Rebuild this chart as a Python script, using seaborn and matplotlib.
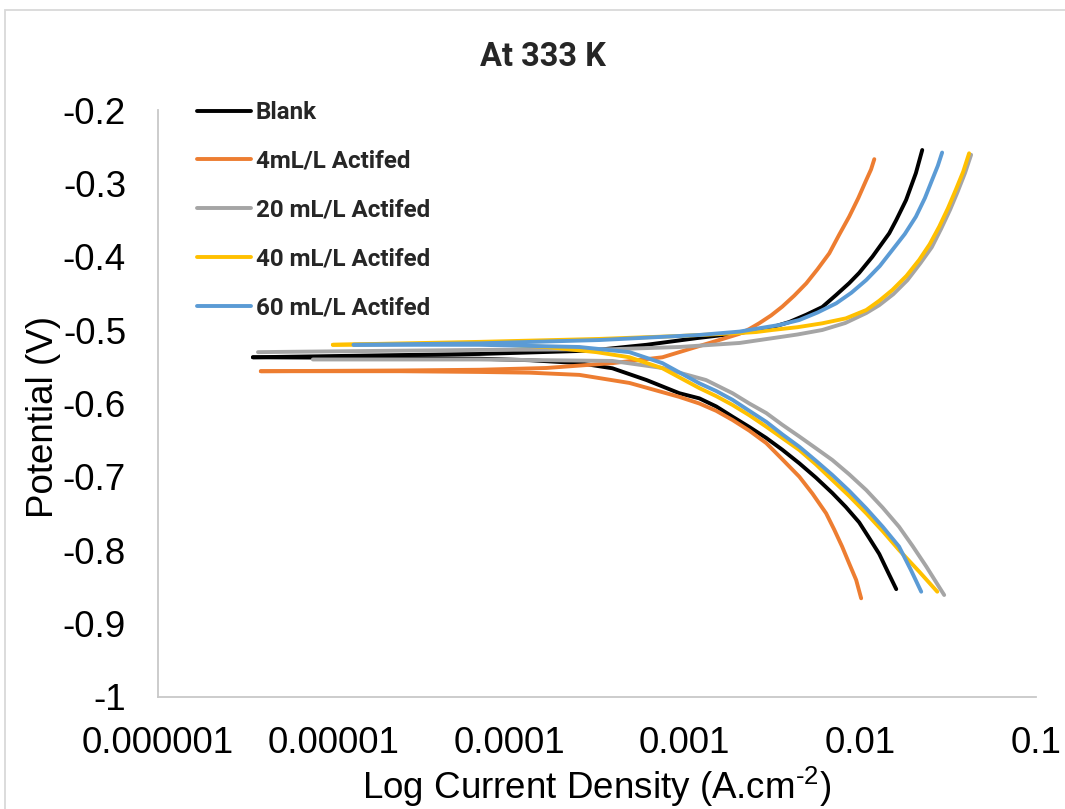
import matplotlib
matplotlib.use("Agg")
import matplotlib.pyplot as plt
import seaborn as sns
import pandas as pd
from matplotlib.lines import Line2D
from matplotlib.patches import Rectangle
from matplotlib.ticker import NullLocator

# ---------------- data ----------------
series_names = ["Blank", "4mL/L Actifed", "20 mL/L Actifed", "40 mL/L Actifed", "60 mL/L Actifed"]
series_colors = ["#000000", "#ED7D31", "#A5A5A5", "#FFC000", "#5B9BD5"]

# Blank  (current density A/cm2, potential V)
blank_cat_i = [1.60e-2, 1.43e-2, 1.28e-2, 1.12e-2, 9.84e-3, 8.26e-3, 6.92e-3, 5.58e-3, 4.49e-3, 3.59e-3,
               2.91e-3, 2.33e-3, 1.87e-3, 1.51e-3, 1.21e-3, 9.31e-4, 6.05e-4, 3.87e-4, 2.51e-4, 1.31e-4,
               6.79e-5, 2.38e-5, 3.47e-6]
blank_cat_E = [-0.853, -0.829, -0.805, -0.783, -0.762, -0.741, -0.722, -0.701, -0.6815, -0.663,
               -0.647, -0.632, -0.618, -0.604, -0.593, -0.586, -0.568, -0.552, -0.545, -0.541,
               -0.539, -0.538, -0.537]
blank_an_i = [3.47e-6, 2.38e-5, 6.79e-5, 2.86e-4, 6.05e-4, 1.16e-3, 2.05e-3, 2.55e-3, 3.15e-3, 3.93e-3,
              4.92e-3, 6.07e-3, 7.28e-3, 8.63e-3, 9.84e-3, 1.17e-2, 1.28e-2, 1.46e-2, 1.60e-2, 1.82e-2,
              2.07e-2, 2.25e-2]
blank_an_E = [-0.537, -0.534, -0.5325, -0.528, -0.520, -0.511, -0.504, -0.500, -0.496, -0.489,
              -0.479, -0.4685, -0.452, -0.436, -0.422, -0.400, -0.387, -0.368, -0.350, -0.3227,
              -0.286, -0.2545]

# 4 mL/L
a4_cat_i = [1.01e-2, 9.46e-3, 8.63e-3, 7.87e-3, 7.10e-3, 6.38e-3, 5.34e-3, 4.49e-3, 3.59e-3, 2.91e-3,
            2.33e-3, 1.87e-3, 1.51e-3, 1.21e-3, 9.31e-4, 4.84e-4, 2.51e-4, 1.31e-4, 6.79e-5, 2.38e-5,
            3.85e-6]
a4_cat_E = [-0.8655, -0.8405, -0.818, -0.795, -0.772, -0.7497, -0.723, -0.6998, -0.676, -0.654,
            -0.637, -0.6225, -0.610, -0.600, -0.591, -0.572, -0.561, -0.558, -0.557, -0.556,
            -0.556]
a4_an_i = [3.85e-6, 2.38e-5, 6.79e-5, 1.63e-4, 3.87e-4, 7.46e-4, 1.16e-3, 1.57e-3, 2.05e-3, 2.33e-3,
           2.65e-3, 3.10e-3, 3.59e-3, 4.20e-3, 4.92e-3, 5.70e-3, 6.65e-3, 7.57e-3, 8.63e-3, 9.73e-3,
           1.08e-2, 1.15e-2, 1.20e-2]
a4_an_E = [-0.556, -0.555, -0.554, -0.5516, -0.545, -0.537, -0.523, -0.5135, -0.505, -0.4985,
           -0.4907, -0.480, -0.468, -0.453, -0.4362, -0.417, -0.3953, -0.370, -0.3454, -0.320,
           -0.2954, -0.281, -0.267]

# 20 mL/L
a20_cat_i = [3.00e-2, 2.69e-2, 2.37e-2, 1.98e-2, 1.66e-2, 1.34e-2, 1.08e-2, 8.63e-3, 6.92e-3, 5.58e-3,
             4.49e-3, 3.59e-3, 2.91e-3, 2.33e-3, 1.87e-3, 1.32e-3, 9.31e-4, 7.46e-4, 3.87e-4, 6.79e-5,
             7.62e-6]
a20_cat_E = [-0.861, -0.843, -0.822, -0.794, -0.768, -0.742, -0.718, -0.6965, -0.677, -0.661,
             -0.645, -0.629, -0.613, -0.600, -0.586, -0.568, -0.558, -0.5516, -0.542, -0.540,
             -0.540]
a20_an_i = [3.71e-6, 2.38e-5, 6.79e-5, 3.87e-4, 9.31e-4, 2.05e-3, 3.15e-3, 4.37e-3, 6.07e-3, 8.20e-3,
            1.08e-2, 1.28e-2, 1.54e-2, 1.85e-2, 2.20e-2, 2.55e-2, 2.88e-2, 3.24e-2, 3.57e-2, 3.94e-2,
            4.27e-2]
a20_an_E = [-0.530, -0.528, -0.527, -0.526, -0.523, -0.5175, -0.511, -0.506, -0.4998, -0.4903,
            -0.4767, -0.466, -0.451, -0.432, -0.4085, -0.387, -0.362, -0.336, -0.312, -0.286,
            -0.261]

# 40 mL/L
a40_cat_i = [2.74e-2, 2.16e-2, 1.66e-2, 1.34e-2, 1.08e-2, 8.63e-3, 6.92e-3, 5.58e-3, 4.49e-3, 3.59e-3,
             2.91e-3, 2.33e-3, 1.87e-3, 1.51e-3, 1.21e-3, 7.46e-4, 4.84e-4, 3.14e-4, 1.63e-4, 6.79e-5,
             9.90e-6]
a40_cat_E = [-0.8565, -0.829, -0.7997, -0.774, -0.7497, -0.726, -0.7043, -0.683, -0.6634, -0.647,
             -0.6316, -0.616, -0.602, -0.590, -0.579, -0.552, -0.537, -0.530, -0.523, -0.518,
             -0.520]
a40_an_i = [9.90e-6, 6.79e-5, 3.27e-4, 9.31e-4, 2.05e-3, 2.55e-3, 3.15e-3, 4.39e-3, 6.07e-3, 8.26e-3,
            1.08e-2, 1.28e-2, 1.52e-2, 1.83e-2, 2.16e-2, 2.48e-2, 2.81e-2, 3.15e-2, 3.49e-2, 3.85e-2,
            4.16e-2]
a40_an_E = [-0.520, -0.516, -0.512, -0.508, -0.504, -0.5026, -0.4998, -0.496, -0.4907, -0.484,
            -0.4726, -0.460, -0.4453, -0.426, -0.4044, -0.383, -0.359, -0.334, -0.309, -0.284,
            -0.259]

# 60 mL/L
a60_cat_i = [2.22e-2, 1.94e-2, 1.66e-2, 1.34e-2, 1.08e-2, 8.63e-3, 6.92e-3, 5.58e-3, 4.49e-3, 3.59e-3,
             2.91e-3, 2.33e-3, 1.87e-3, 1.51e-3, 1.21e-3, 7.46e-4, 4.84e-4, 2.51e-4, 6.79e-5, 1.30e-5]
a60_cat_E = [-0.8565, -0.827, -0.795, -0.768, -0.743, -0.719, -0.6974, -0.678, -0.659, -0.642,
             -0.625, -0.610, -0.595, -0.583, -0.5725, -0.545, -0.530, -0.523, -0.520, -0.520]
a60_an_i = [1.30e-5, 6.79e-5, 3.27e-4, 1.21e-3, 2.05e-3, 2.65e-3, 3.45e-3, 4.49e-3, 5.70e-3, 7.28e-3,
            8.89e-3, 1.08e-2, 1.29e-2, 1.52e-2, 1.79e-2, 2.07e-2, 2.33e-2, 2.56e-2, 2.76e-2, 2.92e-2]
a60_an_E = [-0.520, -0.518, -0.5135, -0.5066, -0.502, -0.4975, -0.493, -0.4862, -0.476, -0.4635,
            -0.449, -0.4317, -0.4126, -0.3908, -0.369, -0.3454, -0.320, -0.2954, -0.276, -0.258]

x_tick_values = [1e-6, 1e-5, 1e-4, 1e-3, 1e-2, 1e-1]
x_tick_labels = ["0.000001", "0.00001", "0.0001", "0.001", "0.01", "0.1"]
y_tick_values = [-1.0, -0.9, -0.8, -0.7, -0.6, -0.5, -0.4, -0.3, -0.2]
y_tick_labels = ["-1", "-0.9", "-0.8", "-0.7", "-0.6", "-0.5", "-0.4", "-0.3", "-0.2"]

title_text = "At 333 K"
x_label = "Log Current Density (A.cm$^{\\mathregular{\u20102}}$)"
y_label = "Potential (V)"

# ---------------- build table ----------------
branches = [
    (series_names[0], "cat", blank_cat_i, blank_cat_E), (series_names[0], "an", blank_an_i, blank_an_E),
    (series_names[1], "cat", a4_cat_i, a4_cat_E), (series_names[1], "an", a4_an_i, a4_an_E),
    (series_names[2], "cat", a20_cat_i, a20_cat_E), (series_names[2], "an", a20_an_i, a20_an_E),
    (series_names[3], "cat", a40_cat_i, a40_cat_E), (series_names[3], "an", a40_an_i, a40_an_E),
    (series_names[4], "cat", a60_cat_i, a60_cat_E), (series_names[4], "an", a60_an_i, a60_an_E),
]
rows = []
for name, br, ii, ee in branches:
    for k, (a, b) in enumerate(zip(ii, ee)):
        rows.append({"series": name, "branch": br, "order": k, "i": a, "E": b})
df = pd.DataFrame(rows)

# ---------------- style ----------------
sns.set_theme(style="white")
plt.rcParams["font.family"] = ["Liberation Sans", "DejaVu Sans"]
plt.rcParams["mathtext.default"] = "regular"

fig = plt.figure(figsize=(10.65, 8.09), dpi=100)
ax = fig.add_axes([158 / 1065, 1 - 697 / 809, 878 / 1065, 587 / 809])

sns.lineplot(data=df, x="i", y="E", hue="series", units="branch", estimator=None,
             sort=False, hue_order=series_names, palette=series_colors,
             linewidth=2.8, solid_capstyle="round", solid_joinstyle="round",
             legend=False, ax=ax)

ax.set_xscale("log")
ax.set_xlim(1e-6, 0.1)
ax.set_ylim(-1.0, -0.2)
ax.set_xticks(x_tick_values)
ax.set_xticklabels(x_tick_labels)
ax.xaxis.set_minor_locator(NullLocator())
ax.set_yticks(y_tick_values)
ax.set_yticklabels(y_tick_labels)

axis_grey = "#C8C8C8"
for s in ["top", "right"]:
    ax.spines[s].set_visible(False)
for s in ["left", "bottom"]:
    ax.spines[s].set_color(axis_grey)
    ax.spines[s].set_linewidth(1.3)
ax.tick_params(axis="both", which="major", direction="out", length=7, width=1.3,
               color=axis_grey, labelsize=26.5, labelcolor="black")
ax.tick_params(axis="x", pad=14)
ax.tick_params(axis="y", pad=16)
ax.grid(False)

ax.set_xlabel(x_label, fontsize=26.5, color="black")
ax.xaxis.label.set_va("center")
ax.xaxis.set_label_coords(0.5, (697 - 787) / 587)
ax.set_ylabel(y_label, fontsize=26.5, color="black")
ax.yaxis.label.set_va("center")
ax.yaxis.set_label_coords((44 - 158) / 878, (697 - 417) / 587)

bold_family = ["Roboto", "DejaVu Sans"]
fig.text(543 / 1065, 1 - 57 / 809, title_text, ha="center", va="center",
         fontsize=23.5, fontweight="bold", family=bold_family)

handles = [Line2D([0], [0], color=c, lw=2.8, solid_capstyle="round") for c in series_colors]
leg = ax.legend(handles, series_names, loc="upper left",
                bbox_to_anchor=((197 - 158) / 878, (697 - 101) / 587),
                frameon=False, borderpad=0, borderaxespad=0, handlelength=2.25,
                handletextpad=0.18, labelspacing=1.07,
                prop={"family": bold_family, "weight": "bold", "size": 17.4})

fig.patches.append(Rectangle((5 / 1065, -0.1), 1.2, (1 - 10 / 809) + 0.1,
                             transform=fig.transFigure, fill=False,
                             edgecolor="#D9D9D9", linewidth=1.3))

fig.savefig("out.png", dpi=100, facecolor="white")
